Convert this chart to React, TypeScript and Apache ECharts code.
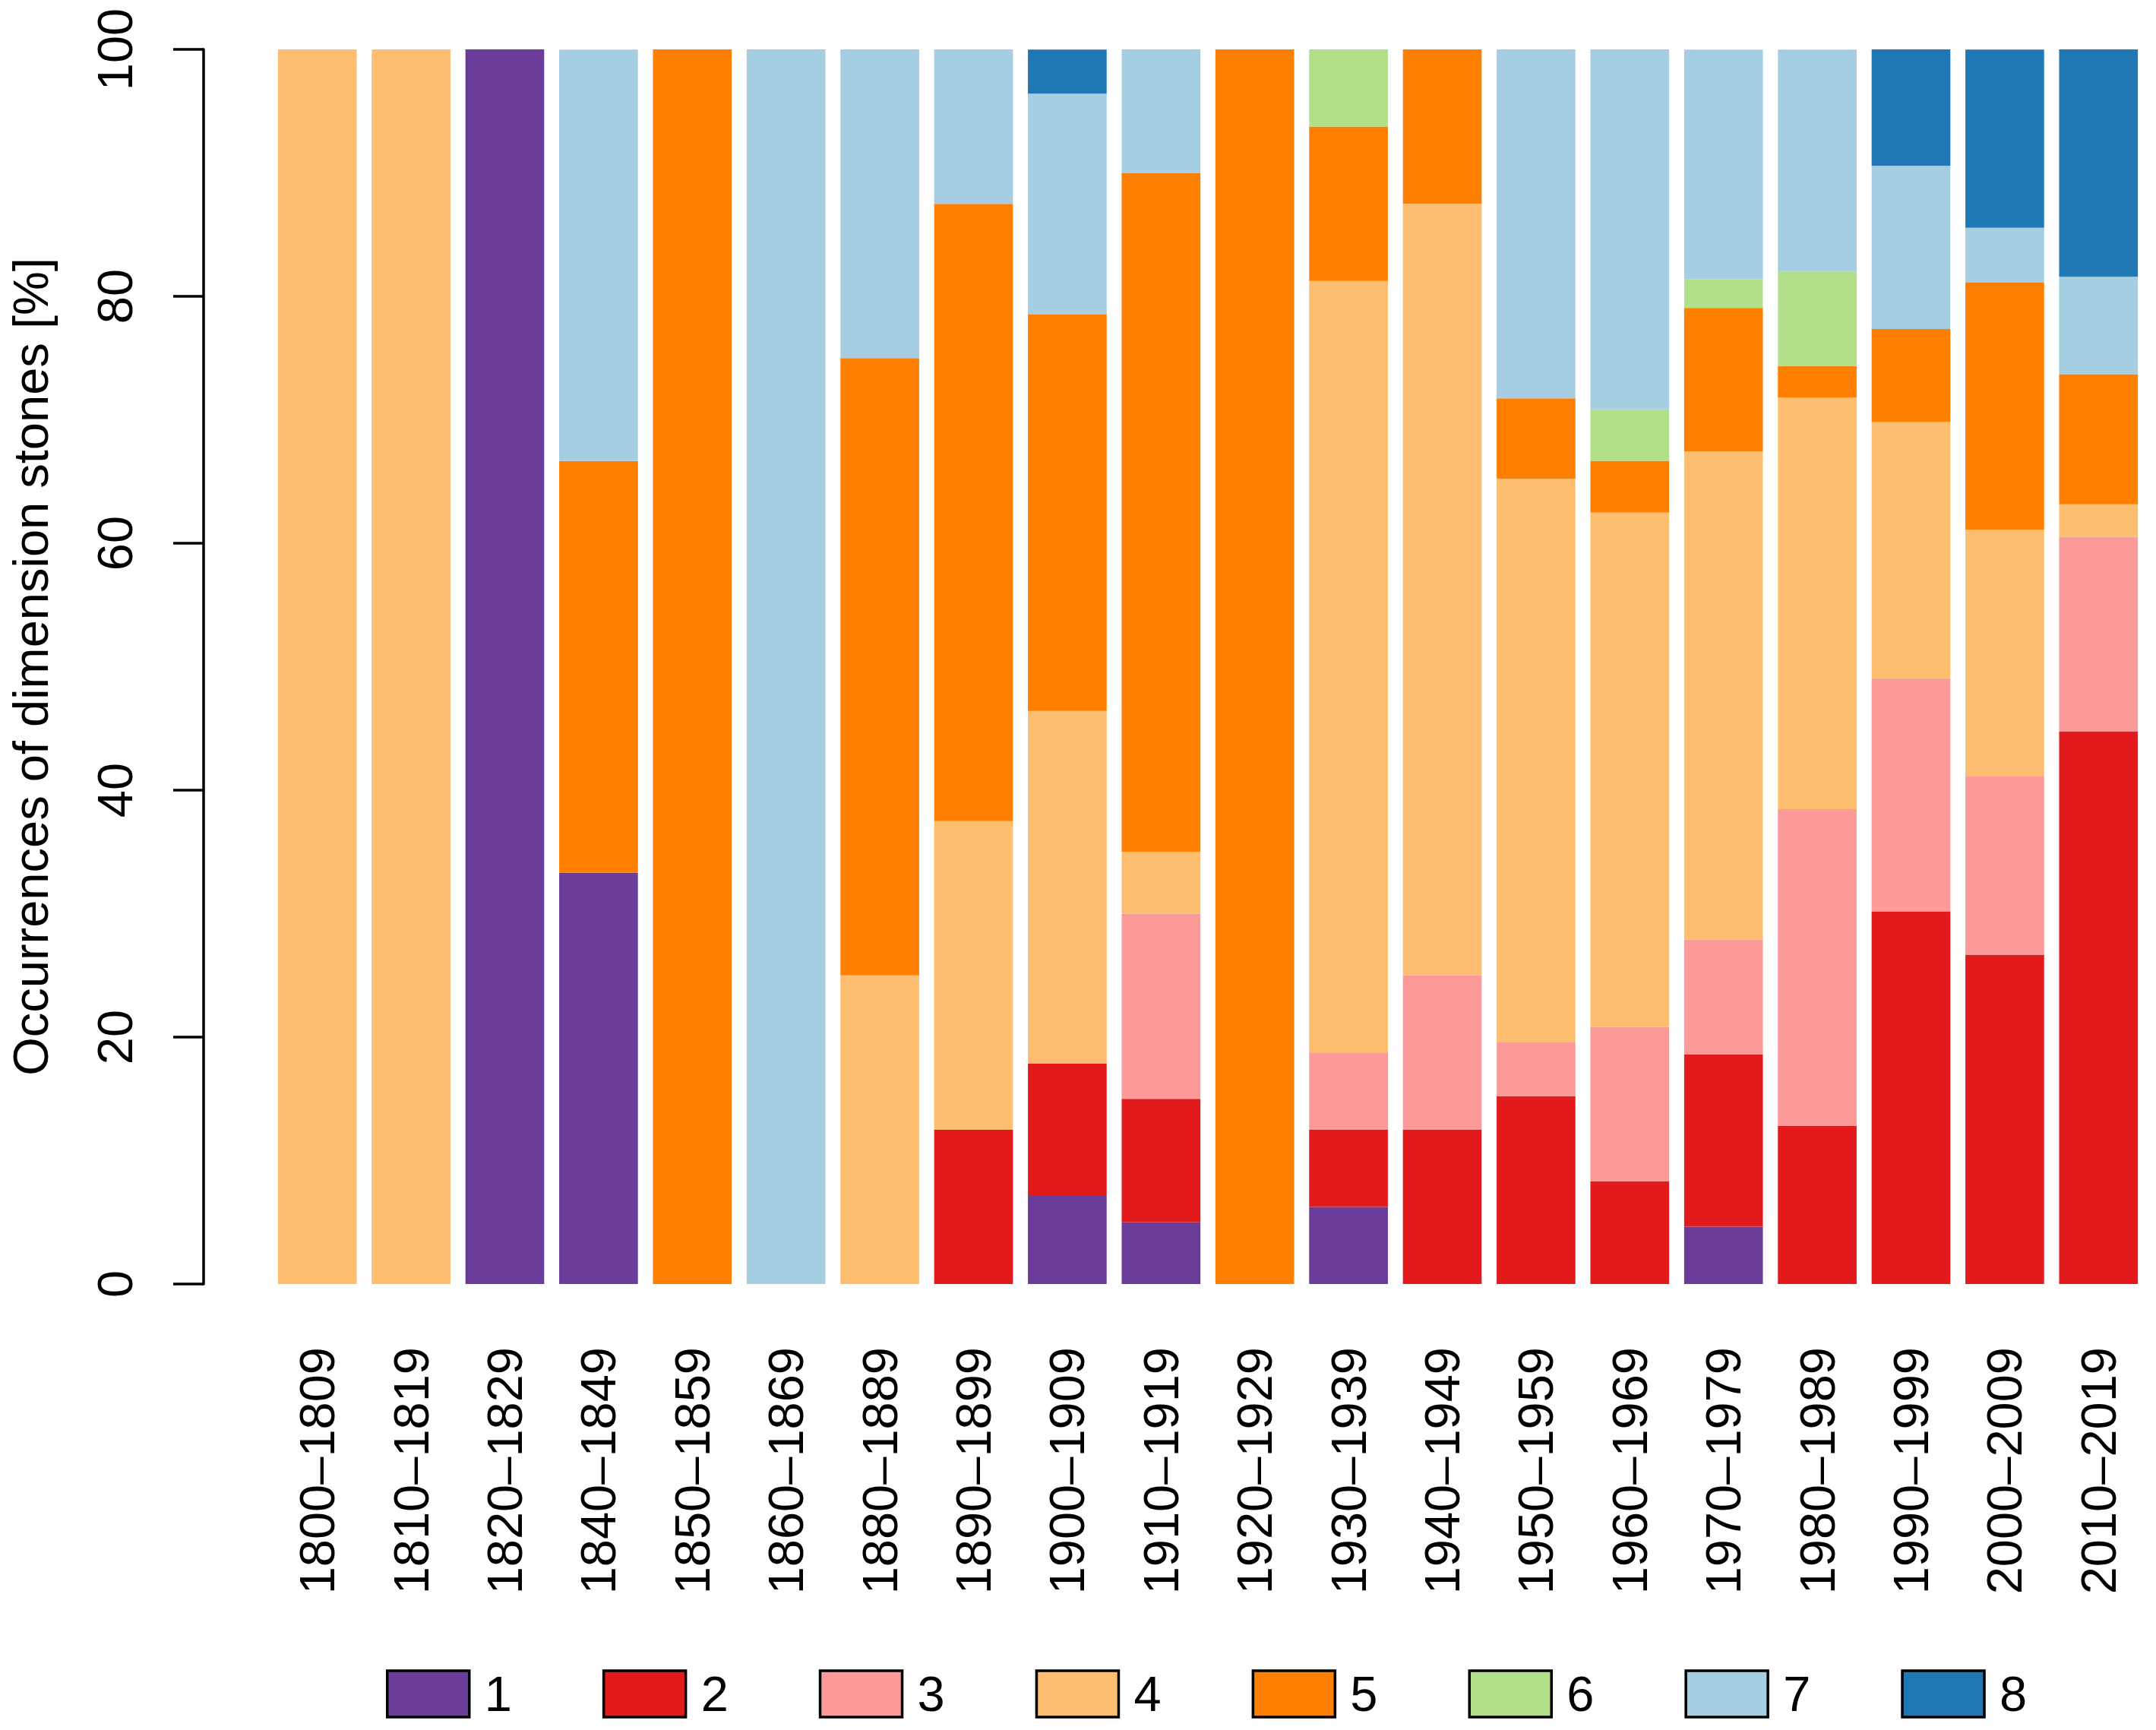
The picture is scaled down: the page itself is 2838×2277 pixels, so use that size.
import React, { useEffect, useRef } from "react";
import * as echarts from "echarts";

const decades = [
  "1800–1809", "1810–1819", "1820–1829", "1840–1849", "1850–1859",
  "1860–1869", "1880–1889", "1890–1899", "1900–1909", "1910–1919",
  "1920–1929", "1930–1939", "1940–1949", "1950–1959", "1960–1969",
  "1970–1979", "1980–1989", "1990–1999", "2000–2009", "2010–2019",
];

const groupNames = ["1", "2", "3", "4", "5", "6", "7", "8"];

// percentages of occurrences per decade, one array per group
const group1 = [0, 0, 100, 33.33, 0, 0, 0, 0, 7.14, 5, 0, 6.25, 0, 0, 0, 4.65, 0, 0, 0, 0];
const group2 = [0, 0, 0, 0, 0, 0, 0, 12.5, 10.71, 10, 0, 6.25, 12.5, 15.22, 8.33, 13.95, 12.82, 30.19, 26.67, 44.74];
const group3 = [0, 0, 0, 0, 0, 0, 0, 0, 0, 15, 0, 6.25, 12.5, 4.35, 12.5, 9.3, 25.64, 18.87, 14.44, 15.79];
const group4 = [100, 100, 0, 0, 0, 0, 25, 25, 28.57, 5, 0, 62.5, 62.5, 45.65, 41.67, 39.53, 33.33, 20.75, 20, 2.63];
const group5 = [0, 0, 0, 33.33, 100, 0, 50, 50, 32.14, 55, 100, 12.5, 12.5, 6.52, 4.17, 11.63, 2.56, 7.55, 20, 10.53];
const group6 = [0, 0, 0, 0, 0, 0, 0, 0, 0, 0, 0, 6.25, 0, 0, 4.17, 2.33, 7.69, 0, 0, 0];
const group7 = [0, 0, 0, 33.33, 0, 100, 25, 12.5, 17.86, 10, 0, 0, 0, 28.26, 29.17, 18.6, 17.95, 13.21, 4.44, 7.89];
const group8 = [0, 0, 0, 0, 0, 0, 0, 0, 3.57, 0, 0, 0, 0, 0, 0, 0, 0, 9.43, 14.44, 18.42];

const yTicks = [0, 20, 40, 60, 80, 100];

const colors = ["#6a3d9a", "#e31a1c", "#fb9a99", "#fdbf6f", "#ff7f00", "#b2df8a", "#a6cee3", "#1f78b4"];

const font = "'Liberation Sans', Arial, Helvetica, sans-serif";

const App: React.FC = () => {
  const chartRef = useRef<HTMLDivElement>(null);

  useEffect(() => {
    document.body.style.margin = "0";
    if (!chartRef.current) return;
    const chart = echarts.init(chartRef.current, null, { renderer: "svg" });

    const groups = [group1, group2, group3, group4, group5, group6, group7, group8];

    const option: echarts.EChartsOption = {
      animation: false,
      backgroundColor: "#fff",
      color: colors,
      textStyle: { fontFamily: font },
      grid: { left: 353, right: 14, top: 65, bottom: 587 },
      legend: {
        left: 503,
        top: 2192,
        icon: "rect",
        itemWidth: 108,
        itemHeight: 61,
        itemGap: 119,
        itemStyle: { borderColor: "#000", borderWidth: 3.5 },
        textStyle: {
          fontSize: 65,
          lineHeight: 61,
          color: "#000",
          fontFamily: font,
          padding: [0, 0, 0, 15],
        },
        data: groupNames,
      },
      xAxis: {
        type: "category",
        data: decades,
        axisLine: { show: false },
        axisTick: { show: false },
        axisLabel: {
          rotate: 90,
          interval: 0,
          margin: 83,
          fontSize: 65,
          color: "#000",
          fontFamily: font,
        },
      },
      yAxis: {
        type: "value",
        min: yTicks[0],
        max: yTicks[yTicks.length - 1],
        interval: 20,
        offset: 88,
        name: "Occurrences of dimension stones [%]",
        nameLocation: "middle",
        nameRotate: 90,
        nameGap: 195,
        nameTextStyle: { fontSize: 65, color: "#000", fontFamily: font },
        splitLine: { show: false },
        axisLine: { show: true, lineStyle: { color: "#000", width: 3.5 } },
        axisTick: { show: true, length: 40, lineStyle: { color: "#000", width: 3.5 } },
        axisLabel: {
          rotate: 90,
          margin: 84,
          fontSize: 65,
          color: "#000",
          fontFamily: font,
        },
      },
      series: groups.map((values, i) => ({
        name: groupNames[i],
        type: "bar" as const,
        stack: "total",
        barCategoryGap: "16%",
        data: values,
        itemStyle: { color: colors[i] },
      })),
    };

    chart.setOption(option);

    return () => {
      chart.dispose();
    };
  }, []);

  return <div ref={chartRef} style={{ width: 2838, height: 2277 }} />;
};

export default App;
